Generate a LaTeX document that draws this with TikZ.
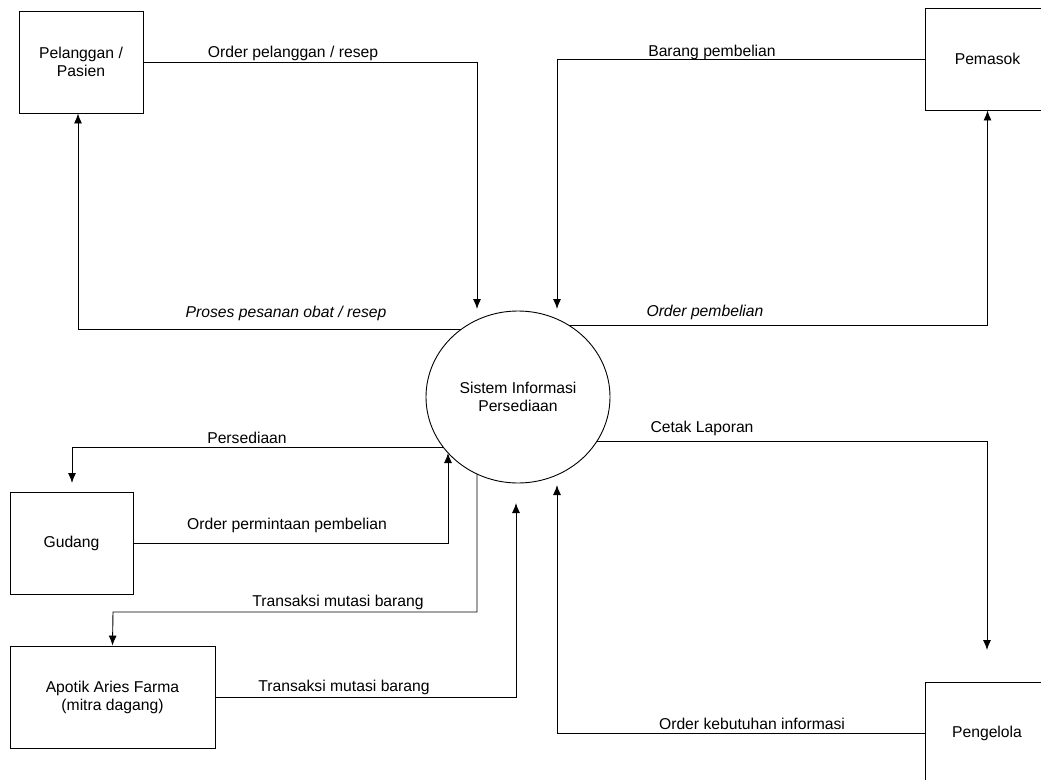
\documentclass[tikz,border=0pt]{standalone}
\usepackage{fontspec}
\setmainfont{Liberation Sans}
\usetikzlibrary{arrows.meta,backgrounds,shapes.geometric}
\begin{document}
\begin{tikzpicture}[x=1pt,y=-1pt,
  every node/.style={font=\fontsize{15.7}{18}\selectfont},
  entity/.style={draw, line width=0.9pt, rectangle, inner sep=0pt, align=center},
  proc/.style={draw, line width=0.9pt, ellipse, fill=white, inner sep=0pt, align=center,
    minimum width=184pt, minimum height=172pt},
  flow/.style={draw, line width=0.9pt, -{Latex[length=10pt,width=8pt]}},
  lbl/.style={inner sep=0pt, anchor=base},
  ]
\useasboundingbox (0,0) rectangle (1041,779);

% entities
\node[entity, minimum width=124pt, minimum height=102pt] (pel) at (81,62) {Pelanggan /\\Pasien};
\node[entity, minimum width=124pt, minimum height=102pt] (pem) at (987.5,59) {Pemasok};
\node[entity, minimum width=124pt, minimum height=103pt] (peng) at (987,733.5) {Pengelola};
\node[entity, minimum width=123pt, minimum height=102pt] (gud) at (71.5,543) {Gudang};
\node[entity, minimum width=205pt, minimum height=102pt] (apo) at (112.5,697) {Apotik Aries Farma\\(mitra dagang)};

% process
\node[proc] (sis) at (518,397) {Sistem Informasi\\Persediaan};

% free arrow ends
\coordinate (t1) at (477,309);
\coordinate (t2) at (557,309);
\coordinate (t5) at (987,650);
\coordinate (t6) at (557,485);
\coordinate (t7) at (72,483);
\coordinate (t8) at (448,453);
\coordinate (c9) at (113,612);
\coordinate (t10) at (516,503);

\begin{scope}[on background layer]
\draw[flow] (pel.east) -| (t1);
\draw[flow] (pem.west) -| (t2);
\draw[flow] ([yshift=68pt]sis.center) -| ([xshift=-3pt]pel.south);
\draw[flow] ([yshift=72pt]sis.center) -| (pem.south);
\draw[flow] ([yshift=-44pt]sis.center) -| (t5);
\draw[flow] (peng.west) -| (t6);
\draw[flow] ([yshift=-50pt]sis.center) -| (t7);
\draw[flow] (gud.east) -| (t8);
\draw[flow] ([xshift=-41pt]sis.center) |- (c9) -- (apo.north);
\draw[flow] (apo.east) -| (t10);
\end{scope}

% labels
\node[lbl] (l1) at (293,57) {Order pelanggan / resep};
\node[lbl] (l2) at (712,56) {Barang pembelian};
\node[lbl] (l3) at (286,317) {\itshape Proses pesanan obat / resep};
\node[lbl] (l4) at (705,316) {\itshape Order pembelian};
\node[lbl] (l5) at (702,432) {Cetak Laporan};
\node[lbl] (l6) at (247,443) {Persediaan};
\node[lbl] (l7) at (287,529) {Order permintaan pembelian};
\node[lbl] (l8) at (338,606) {Transaksi mutasi barang};
\node[lbl] (l9) at (344,691) {Transaksi mutasi barang};
\node[lbl] (l10) at (752,729) {Order kebutuhan informasi};
\end{tikzpicture}
\end{document}
